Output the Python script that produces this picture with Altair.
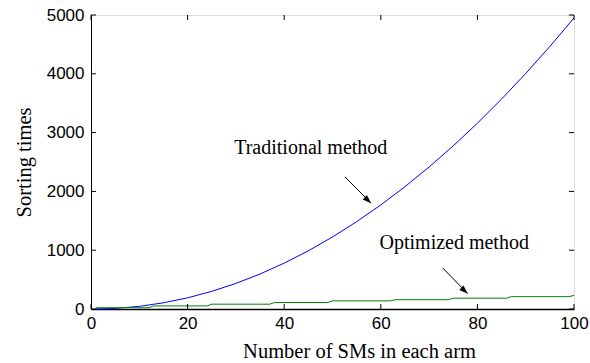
import altair as alt
import pandas as pd

# Traditional method (blue)
trad_x = [1, 5, 10, 15, 20, 25, 30, 35, 40, 45, 50, 55, 60, 65, 70, 75, 80, 85, 90, 95, 100]
trad_y = [0, 10, 45, 105, 190, 300, 435, 595, 780, 990, 1225, 1485, 1770, 2080, 2415, 2775, 3160, 3570, 4005, 4465, 4950]

# Optimized method (green, stepped)
opt_x = [1, 12, 13, 24, 25, 37, 38, 49, 50, 62, 63, 74, 75, 86, 87, 99, 100]
opt_y = [22, 22, 52, 52, 82, 82, 110, 110, 138, 138, 158, 158, 184, 184, 210, 210, 232]

x_ticks = [0, 20, 40, 60, 80, 100]
y_ticks = [0, 1000, 2000, 3000, 4000, 5000]

W, H = 483, 294

df = pd.concat([
    pd.DataFrame({"x": trad_x, "y": trad_y, "s": "Traditional method"}),
    pd.DataFrame({"x": opt_x, "y": opt_y, "s": "Optimized method"}),
])

xs = alt.Scale(domain=[0, 100], nice=False, zero=False)
ys = alt.Scale(domain=[0, 5000], nice=False)

lines = alt.Chart(df).mark_line(strokeWidth=1).encode(
    x=alt.X("x:Q", scale=xs, axis=alt.Axis(
        values=x_ticks, format="d", title="Number of SMs in each arm", grid=False,
        tickSize=0, labelPadding=6, labelFont="Liberation Sans", labelFontSize=17,
        labelColor="black", titleFont="Liberation Serif", titleFontSize=20.5,
        titleFontWeight="normal", titleColor="black", titlePadding=10,
        titleX=268, domainColor="black", domainWidth=1.5, labelFlush=False)),
    y=alt.Y("y:Q", scale=ys, axis=alt.Axis(
        values=y_ticks, format="d", title="Sorting times", grid=False, tickSize=0,
        labelPadding=7, labelFont="Liberation Sans", labelFontSize=17,
        labelColor="black", titleFont="Liberation Serif", titleFontSize=20.5,
        titleFontWeight="normal", titleColor="black", titlePadding=12,
        domainColor="black", labelFlush=False)),
    color=alt.Color("s:N", scale=alt.Scale(
        domain=["Traditional method", "Optimized method"],
        range=["#0000ff", "#008000"]), legend=None),
    detail="s:N",
)

xt = pd.DataFrame({"t": x_ticks})
yt = pd.DataFrame({"t": y_ticks})
tick_layers = [
    alt.Chart(xt).mark_rule(color="black").encode(x=alt.X("t:Q", scale=xs), y=alt.value(H), y2=alt.value(H - 5)),
    alt.Chart(xt).mark_rule(color="black").encode(x=alt.X("t:Q", scale=xs), y=alt.value(0), y2=alt.value(5)),
    alt.Chart(yt).mark_rule(color="black").encode(y=alt.Y("t:Q", scale=ys), x=alt.value(0), x2=alt.value(5)),
    alt.Chart(yt).mark_rule(color="black").encode(y=alt.Y("t:Q", scale=ys), x=alt.value(W), x2=alt.value(W - 5)),
]

ann = pd.DataFrame({
    "label": ["Traditional method", "Optimized method"],
    "tx": [45.5, 75.2], "ty": [2640, 1020],
    "ax": [52.6, 72.8], "ay": [2245, 700],
    "bx": [58.0, 78.0], "by": [1800, 260],
})

texts = alt.Chart(ann).mark_text(font="Liberation Serif", fontSize=20, color="black",
                                 baseline="alphabetic").encode(
    x=alt.X("tx:Q", scale=xs), y=alt.Y("ty:Q", scale=ys), text="label:N")
arrow_lines = alt.Chart(ann).mark_rule(color="black", strokeWidth=1).encode(
    x=alt.X("ax:Q", scale=xs), y=alt.Y("ay:Q", scale=ys),
    x2="bx:Q", y2="by:Q")
heads = alt.Chart(ann).mark_point(
    shape="M0,0 L-0.35,1 L0.35,1 Z", filled=True, color="black", opacity=1,
    size=300, angle=133).encode(x=alt.X("bx:Q", scale=xs), y=alt.Y("by:Q", scale=ys))

chart = alt.layer(lines, *tick_layers, arrow_lines, heads, texts).properties(
    width=W, height=H,
    autosize=alt.AutoSizeParams(type="none"),
    padding={"left": 91, "top": 15, "right": 16, "bottom": 54},
).configure_view(stroke="black", strokeWidth=1).configure(background="white")

chart.save("out.html", embed_options={"renderer": "svg", "actions": False})
